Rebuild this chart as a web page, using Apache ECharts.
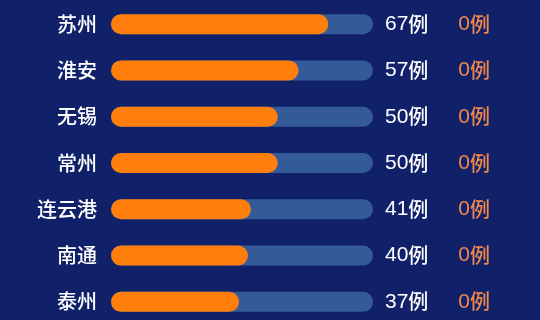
<!DOCTYPE html>
<html><head><meta charset="utf-8">
<script src="https://cdn.jsdelivr.net/npm/echarts@6/dist/echarts.min.js"></script>
<style>html,body{margin:0;padding:0;background:#10216a;}#c{width:540px;height:320px;}</style>
</head><body><div id="c"></div>
<script>
const categories = ['苏州','淮安','无锡','常州','连云港','南通','泰州'];
const caseValues = [67,57,50,50,41,40,37];
const secondValues = [0,0,0,0,0,0,0];

const FONT = '"Noto Sans CJK SC", "Noto Sans", sans-serif';
const NUMFONT = '"Liberation Sans", "Noto Sans CJK SC", sans-serif';
const chart = echarts.init(document.getElementById('c'), null, {renderer:'canvas'});
chart.setOption({
  backgroundColor: '#10216a',
  animation: false,
  grid: {left: 111, top: 1, width: 262, height: 324, containLabel: false, outerBoundsMode: 'none'},
  xAxis: {type: 'value', min: -6, max: 82, show: false},
  yAxis: [
    {type: 'category', data: categories, inverse: true,
     axisLine: {show: false}, axisTick: {show: false}, splitLine: {show: false},
     axisLabel: {color: '#ffffff', fontSize: 20, fontWeight: 500, fontFamily: FONT, margin: 14}},
    {type: 'category', data: categories, inverse: true, position: 'right',
     axisLine: {show: false}, axisTick: {show: false}, splitLine: {show: false},
     axisLabel: {margin: 12, align: 'left', fontFamily: FONT,
       formatter: (v, i) => `{n|${caseValues[i]}}{a|例}{m|${secondValues[i]}}{b|例}`,
       rich: {
         n: {color: '#ffffff', fontSize: 21, fontFamily: NUMFONT},
         a: {color: '#ffffff', fontSize: 20, fontWeight: 500, fontFamily: FONT, width: 50},
         m: {color: '#f0874b', fontSize: 21, fontFamily: NUMFONT},
         b: {color: '#f0874b', fontSize: 20, fontWeight: 500, fontFamily: FONT}
       }}}
  ],
  series: [{
    type: 'custom',
    encode: {x: 0, y: 1},
    data: caseValues.map((v, i) => [v, i]),
    renderItem: function (params, api) {
      const end = api.coord([api.value(0), api.value(1)]);
      const cs = params.coordSys;
      const h = 20;
      return {type: 'group', children: [
        {type: 'rect', shape: {x: cs.x, y: end[1] - h / 2, width: cs.width, height: h, r: h / 2},
         style: {fill: '#345b97'}},
        {type: 'rect', shape: {x: cs.x, y: end[1] - h / 2, width: end[0] - cs.x, height: h, r: h / 2},
         style: {fill: '#ff7e0c'}}
      ]};
    }
  }]
});
</script></body></html>
